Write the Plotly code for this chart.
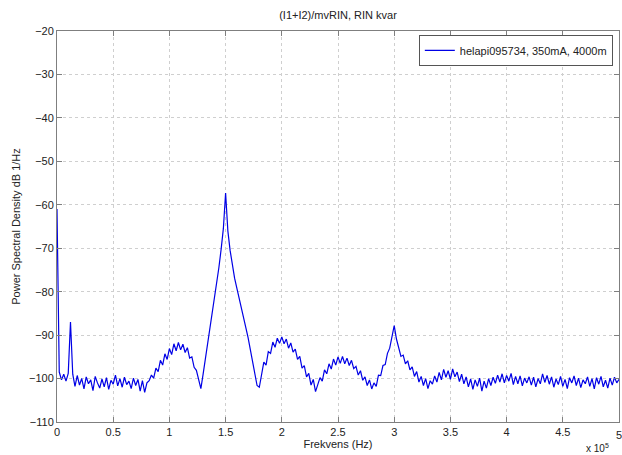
import plotly.graph_objects as go

# Frequency grid (Hz) and PSD values (dB 1/Hz)
freq_step = 2000
psd_db = [
    # 0 - 12 kHz (DC spike and small spur)
    -61.0, -98.5, -100.3, -99.0, -100.6, -98.8, -87.0,
    # 14 - 80 kHz flat floor
    -99.0, -101.8, -99.3, -101.5, -100.0, -102.4, -99.6, -101.2, -100.3, -102.8,
    -99.5, -101.0, -102.2, -100.1, -101.9, -99.8, -102.5, -100.4, -101.3, -99.2,
    -101.7, -100.0, -102.0, -99.7, -101.4, -100.6, -102.3, -99.9, -101.6, -100.2,
    -102.9, -100.5, -103.2, -101.0,
    # 82 - 126 kHz hump
    -100.5, -99.2, -99.9, -97.6, -98.4, -95.8, -96.9, -94.3, -95.6, -93.1,
    -94.5, -92.0, -93.6, -91.7, -93.4, -92.1, -94.0, -92.9, -95.3, -95.0,
    -97.4, -98.1, -100.6,
    # 128 - 180 kHz main peak
    -102.3, -99.0, -95.5, -91.5, -88.8, -84.5, -81.5, -78.5, -74.5, -70.3,
    -65.5, -57.3, -66.0, -70.5, -73.8, -76.9, -79.2, -81.3, -83.8, -86.0,
    -88.3, -90.6, -93.2, -95.8, -98.9, -101.6, -102.0,
    # 182 - 232 kHz hump
    -99.5, -96.2, -96.9, -93.8, -94.2, -91.6, -92.8, -90.7, -91.9, -90.4,
    -92.0, -90.9, -93.0, -91.8, -93.9, -93.2, -95.6, -94.9, -97.6, -97.0,
    -99.6, -98.8, -101.5, -100.2, -103.0, -101.4,
    # 234 - 282 kHz hump
    -99.8, -100.6, -98.0, -98.9, -96.6, -97.8, -95.5, -96.9, -95.0, -96.5,
    -94.9, -96.6, -95.3, -97.0, -95.8, -97.7, -97.2, -99.2, -98.2, -100.4,
    -99.6, -101.6, -100.3, -102.4, -101.0,
    # 284 - 300 kHz rise to peak
    -101.8, -99.2, -99.3, -97.0, -96.8, -94.2, -93.0, -90.0, -87.8,
    # 302 - 332 kHz decay
    -90.9, -93.0, -94.9, -94.6, -96.6, -95.9, -98.0, -97.3, -99.5, -98.4,
    -100.8, -99.5, -101.6, -100.0, -102.3, -100.5,
    # 334 - 360 kHz
    -101.3, -99.4, -100.8, -98.6, -100.3, -97.9, -99.7, -98.2, -100.2, -97.8,
    -99.6, -98.5, -100.7, -99.0,
    # 362 - 388 kHz
    -101.2, -99.6, -101.9, -100.1, -102.5, -100.3, -101.8, -99.9, -102.9, -100.6,
    -102.2, -100.0, -101.6, -99.7,
    # 390 - 420 kHz
    -101.1, -99.2, -100.8, -98.9, -101.0, -99.3, -100.6, -98.8, -101.4, -99.5,
    -101.2, -99.4, -101.7, -99.9, -101.0, -99.6,
    # 422 - 460 kHz
    -101.5, -99.7, -101.9, -100.0, -101.2, -98.9, -100.9, -99.3, -101.3, -99.6,
    -102.0, -100.1, -101.4, -99.5, -101.8, -100.2, -102.3, -99.8, -101.0, -99.4,
    # 462 - 500 kHz
    -101.6, -99.9, -102.1, -100.3, -101.2, -99.6, -101.8, -100.0, -102.4, -99.8,
    -101.3, -99.5, -101.9, -100.4, -102.2, -99.9, -101.5, -99.7, -101.0, -100.2,
]
freq_hz = [i * freq_step for i in range(len(psd_db))]

x_tick_vals = [0, 50000, 100000, 150000, 200000, 250000, 300000, 350000, 400000, 450000]
x_tick_text = ["0", "0.5", "1", "1.5", "2", "2.5", "3", "3.5", "4", "4.5"]
x_last_tick = 500000
x_last_text = "5"
y_tick_vals = [-110, -100, -90, -80, -70, -60, -50, -40, -30, -20]

font_family = "Liberation Sans, Arial, sans-serif"

fig = go.Figure()
fig.add_trace(go.Scatter(
    x=freq_hz, y=psd_db, mode="lines",
    line=dict(color="#0000e6", width=1.2),
    name="helapi095734, 350mA, 4000m",
))

axis_common = dict(
    showline=True, mirror="ticks", linecolor="#7f7f7f", linewidth=1,
    ticks="inside", ticklen=5, tickcolor="#7f7f7f",
    showgrid=True, gridcolor="#cfcfcf", griddash="dot", gridwidth=1,
    zeroline=False,
    tickfont=dict(family=font_family, size=11, color="#222222"),
)

fig.update_layout(
    width=622, height=455,
    margin=dict(l=57, r=3, t=31, b=33),
    paper_bgcolor="white", plot_bgcolor="white",
    font=dict(family=font_family, size=11, color="#222222"),
    title=dict(text="(I1+I2)/mvRIN, RIN kvar", x=(57 + 619) / 2 / 622, xanchor="center",
               y=1 - 15 / 455, yanchor="middle", font=dict(size=11)),
    showlegend=True,
    legend=dict(x=0.989, y=0.99, xanchor="right", yanchor="top",
                bgcolor="white", bordercolor="#555555", borderwidth=1,
                font=dict(size=11), itemwidth=30, tracegroupgap=0),
    xaxis=dict(range=[0, 500000], tickvals=x_tick_vals + [x_last_tick],
               ticktext=x_tick_text + [""],
               title=dict(text="Frekvens (Hz)", standoff=2, font=dict(size=11)),
               **axis_common),
    yaxis=dict(range=[-110, -20], tickvals=y_tick_vals,
               title=dict(text="Power Spectral Density dB 1/Hz", standoff=6, font=dict(size=11)),
               **axis_common),
)

# last x tick label (sits on the right edge of the page)
fig.add_annotation(text=x_last_text, xref="x", yref="paper", x=x_last_tick, y=-0.012,
                   xanchor="center", yanchor="top", showarrow=False,
                   font=dict(size=11, family=font_family, color="#222222"))

fig.add_annotation(text="x 10<sup>5</sup>", xref="paper", yref="paper",
                   x=0.985, y=-0.086, xanchor="right", yanchor="bottom", showarrow=False,
                   font=dict(size=10, family=font_family, color="#222222"))

fig.write_html("out.html")
